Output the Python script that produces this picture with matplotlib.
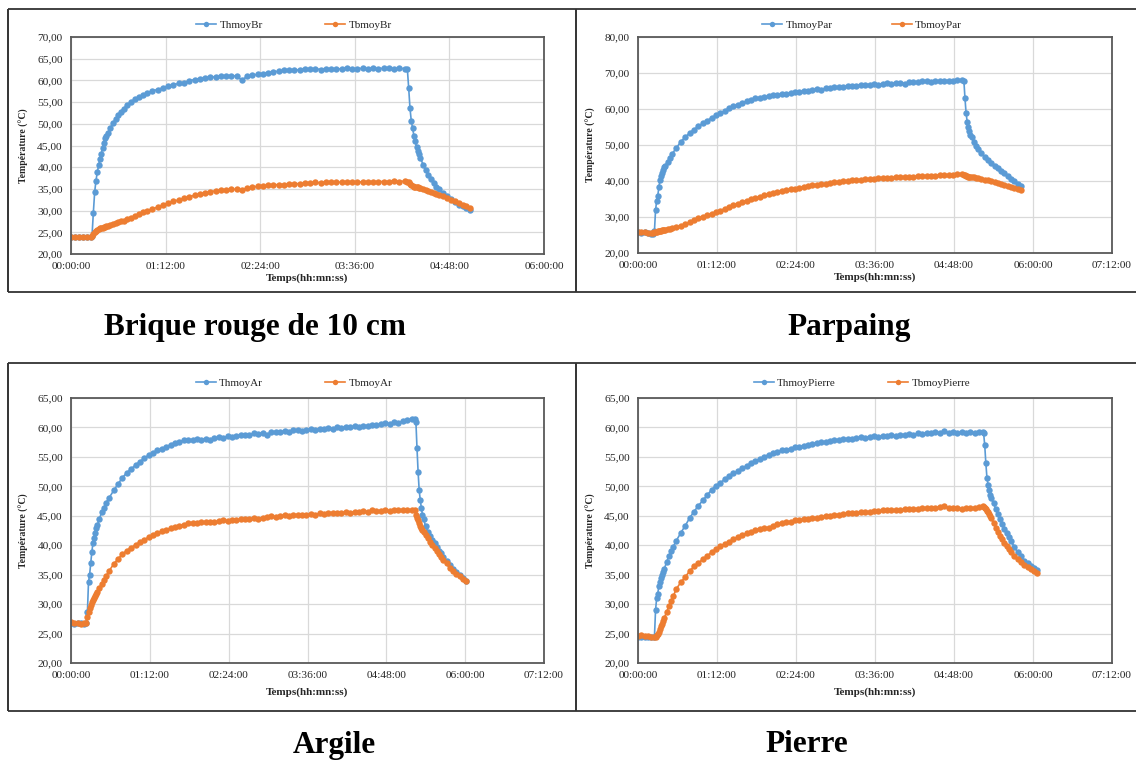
import matplotlib
matplotlib.use("Agg")
import matplotlib.pyplot as plt
from matplotlib.ticker import FuncFormatter, MultipleLocator

plt.rcParams["font.family"] = ["Liberation Serif", "DejaVu Serif"]

# ---------------------------------------------------------------------------
# Measured mean temperatures (time in minutes, temperatures in °C)
# hot = face chauffée (Thmoy), cold = face opposée (Tbmoy)
# ---------------------------------------------------------------------------

# Brique rouge de 10 cm
t_br = [0, 3, 6, 9, 12, 15,
        16, 17, 18, 19, 20, 21, 22, 23, 24, 25,
        26, 27, 28, 30, 32, 34, 36, 38, 40, 43, 46, 49, 52, 55, 58,
        62, 66, 70, 74, 78, 82, 86, 90, 94, 98,
        102, 106, 110, 114, 118, 122, 126, 130, 134, 138,
        142, 146, 150, 154, 158, 162, 166, 170, 174, 178,
        182, 186, 190, 194, 198, 202, 206, 210, 214, 218,
        222, 226, 230, 234, 238, 242, 246, 250, 254,
        256, 257, 258, 259, 260, 261, 262, 263, 264, 265,
        266, 268, 270, 272, 274, 276, 278, 280, 283, 286,
        289, 292, 295, 298, 301, 304]
hot_br = [24.0, 24.0, 23.9, 24.0, 24.0, 24.0,
          24.2, 29.5, 34.2, 36.9, 38.8, 40.4, 41.8, 43.1, 44.4, 45.5,
          46.7, 47.2, 47.8, 49.1, 50.2, 51.1, 52.0, 52.8, 53.5, 54.4, 55.1, 55.7, 56.2, 56.7, 57.1,
          57.6, 57.9, 58.3, 58.6, 59.0, 59.3, 59.5, 59.9, 60.2, 60.4,
          60.6, 60.8, 60.8, 61.0, 60.9, 61.1, 61.0, 60.1, 60.9, 61.2,
          61.4, 61.5, 61.8, 62.0, 62.1, 62.3, 62.5, 62.3, 62.5, 62.7,
          62.6, 62.7, 62.5, 62.7, 62.6, 62.7, 62.6, 62.9, 62.6, 62.7,
          62.8, 62.7, 62.9, 62.7, 62.8, 62.9, 62.7, 62.8, 62.7,
          62.6, 58.3, 53.6, 50.6, 49.0, 47.2, 46.0, 44.7, 43.8, 43.0,
          42.2, 40.5, 39.3, 38.3, 37.2, 36.3, 35.5, 34.9, 34.0, 33.4,
          32.6, 31.9, 31.4, 31.0, 30.6, 30.2]
cold_br = [24.0, 23.9, 24.0, 24.0, 23.9, 24.0,
           24.1, 24.6, 25.1, 25.4, 25.6, 25.8, 25.9, 26.0, 26.1, 26.2,
           26.3, 26.4, 26.5, 26.7, 26.9, 27.1, 27.3, 27.5, 27.7, 28.0, 28.4, 28.8, 29.2, 29.6, 30.0,
           30.4, 30.8, 31.3, 31.7, 32.1, 32.5, 32.8, 33.2, 33.5, 33.8,
           34.1, 34.3, 34.6, 34.7, 34.8, 34.9, 34.9, 34.8, 35.1, 35.4,
           35.6, 35.7, 35.8, 35.9, 36.0, 36.0, 36.1, 36.2, 36.2, 36.3,
           36.4, 36.5, 36.4, 36.5, 36.5, 36.6, 36.5, 36.6, 36.5, 36.6,
           36.6, 36.7, 36.6, 36.7, 36.7, 36.7, 36.8, 36.7, 36.8,
           36.7, 36.6, 36.1, 35.8, 35.6, 35.5, 35.5, 35.4, 35.4, 35.3,
           35.2, 35.0, 34.8, 34.6, 34.3, 34.1, 33.9, 33.7, 33.3, 32.9,
           32.5, 32.1, 31.8, 31.4, 31.0, 30.7]

# Parpaing
t_par = [0, 3, 6, 9, 12, 14,
         15, 16, 17, 18, 19, 20, 21, 22, 23, 24, 25, 27, 29, 31,
         35, 39, 43, 47, 51, 55, 59, 63, 67, 71,
         75, 79, 83, 87, 91, 95, 99, 103, 107, 111,
         115, 119, 123, 127, 131, 135, 139, 143, 147, 151,
         155, 159, 163, 167, 171, 175, 179, 183, 187, 191,
         195, 199, 203, 207, 211, 215, 219, 223, 227, 231,
         235, 239, 243, 247, 251, 255, 259, 263, 267, 271,
         275, 279, 283, 287, 291, 295,
         297, 298, 299, 300, 301, 302, 303, 304, 306, 308,
         310, 313, 316, 319, 322, 325, 328, 331, 334, 337,
         340, 343, 346, 349]
hot_par = [25.7, 25.6, 25.7, 25.6, 25.4, 25.3,
           26.2, 31.9, 34.5, 35.9, 38.2, 40.2, 41.3, 42.3, 43.1, 43.8, 44.3, 45.4, 46.5, 47.5,
           49.2, 50.9, 52.2, 53.3, 54.3, 55.2, 56.0, 56.8, 57.5, 58.2,
           58.8, 59.5, 60.2, 60.8, 61.2, 61.7, 62.1, 62.6, 63.0, 63.0,
           63.4, 63.5, 63.9, 63.9, 64.2, 64.3, 64.4, 64.6, 64.7, 65.0,
           65.1, 65.3, 65.5, 65.4, 65.7, 65.8, 66.0, 66.1, 66.2, 66.4,
           66.5, 66.5, 66.7, 66.7, 66.8, 66.9, 66.8, 67.0, 67.1, 67.0,
           67.2, 67.3, 67.0, 67.4, 67.5, 67.6, 67.7, 67.8, 67.6, 67.8,
           67.7, 67.8, 67.9, 67.8, 68.0, 68.1,
           67.9, 63.0, 58.9, 56.5, 55.0, 53.8, 52.9, 52.1, 50.8, 49.7,
           48.9, 47.7, 46.7, 45.8, 45.0, 44.2, 43.5, 42.8, 42.1, 41.4,
           40.6, 39.9, 39.2, 38.5]
cold_par = [25.8, 25.7, 25.7, 25.6, 25.6, 25.6,
            25.7, 25.8, 25.9, 26.0, 26.1, 26.2, 26.2, 26.3, 26.3, 26.4, 26.5, 26.6, 26.7, 26.9,
            27.2, 27.6, 28.0, 28.5, 29.1, 29.6, 30.1, 30.5, 30.9, 31.3,
            31.8, 32.3, 32.8, 33.3, 33.7, 34.2, 34.5, 34.9, 35.3, 35.6,
            36.0, 36.4, 36.7, 37.0, 37.3, 37.5, 37.7, 37.9, 38.1, 38.4,
            38.6, 38.8, 38.9, 39.1, 39.3, 39.4, 39.6, 39.8, 39.9, 40.1,
            40.2, 40.3, 40.4, 40.5, 40.5, 40.6, 40.7, 40.8, 40.9, 40.9,
            41.0, 41.1, 41.1, 41.2, 41.2, 41.3, 41.3, 41.4, 41.5, 41.5,
            41.6, 41.6, 41.7, 41.8, 41.9, 41.9,
            41.8, 41.6, 41.4, 41.3, 41.2, 41.2, 41.1, 41.1, 41.0, 40.9,
            40.8, 40.6, 40.4, 40.2, 40.0, 39.8, 39.5, 39.2, 38.9, 38.6,
            38.3, 38.1, 37.8, 37.6]

# Argile
t_ar = [0, 3, 6, 9, 12, 14,
        15, 16, 17, 18, 19, 20, 21, 22, 23, 24, 26, 28, 30, 32,
        35, 39, 43, 47, 51, 55, 59, 63, 67, 71,
        75, 79, 83, 87, 91, 95, 99, 103, 107, 111,
        115, 119, 123, 127, 131, 135, 139, 143, 147, 151,
        155, 159, 163, 167, 171, 175, 179, 183, 187, 191,
        195, 199, 203, 207, 211, 215, 219, 223, 227, 231,
        235, 239, 243, 247, 251, 255, 259, 263, 267, 271,
        275, 279, 283, 287, 291, 295, 299, 303, 307, 311,
        314, 315, 316, 317, 318, 319, 320, 321, 322, 324,
        326, 328, 330, 332, 334, 336, 338, 340, 343, 346,
        349, 352, 355, 358, 361]
hot_ar = [26.8, 26.7, 26.8, 26.8, 26.7, 26.8,
          28.7, 33.8, 35.0, 36.9, 38.8, 40.3, 41.3, 42.1, 42.9, 43.4, 44.5, 45.6, 46.4, 47.2,
          48.1, 49.3, 50.4, 51.5, 52.3, 53.0, 53.6, 54.2, 54.8, 55.3,
          55.7, 56.1, 56.4, 56.7, 57.1, 57.4, 57.6, 57.8, 57.9, 57.8,
          58.0, 57.9, 58.1, 57.9, 58.2, 58.3, 58.2, 58.5, 58.4, 58.6,
          58.7, 58.8, 58.7, 59.0, 58.9, 59.1, 58.8, 59.2, 59.3, 59.2,
          59.4, 59.3, 59.5, 59.6, 59.4, 59.6, 59.7, 59.6, 59.8, 59.7,
          59.9, 59.8, 60.0, 59.9, 60.1, 60.0, 60.2, 60.1, 60.3, 60.3,
          60.5, 60.4, 60.6, 60.7, 60.6, 60.9, 60.8, 61.1, 61.2, 61.4,
          61.5, 61.0, 56.5, 52.5, 49.3, 47.7, 46.3, 45.2, 44.4, 43.2,
          42.3, 41.6, 40.9, 40.3, 39.7, 39.1, 38.6, 38.0, 37.3, 36.6,
          36.0, 35.5, 34.9, 34.4, 34.0]
cold_ar = [26.9, 26.8, 26.8, 26.7, 26.8, 26.8,
           27.8, 28.6, 29.4, 29.9, 30.3, 30.7, 31.0, 31.3, 31.7, 32.0, 32.7, 33.5, 34.1, 34.7,
           35.7, 36.8, 37.7, 38.5, 39.1, 39.6, 40.1, 40.5, 40.9, 41.4,
           41.7, 42.0, 42.4, 42.6, 42.9, 43.1, 43.3, 43.5, 43.7, 43.8,
           43.7, 43.9, 43.9, 44.0, 43.9, 44.1, 44.2, 44.1, 44.3, 44.2,
           44.4, 44.4, 44.5, 44.6, 44.5, 44.7, 44.8, 44.9, 44.8, 45.0,
           45.1, 45.0, 45.1, 45.2, 45.1, 45.2, 45.3, 45.2, 45.4, 45.3,
           45.4, 45.5, 45.4, 45.5, 45.6, 45.5, 45.7, 45.6, 45.8, 45.7,
           45.9, 45.8, 45.8, 45.9, 45.8, 46.0, 45.9, 46.0, 46.0, 45.9,
           45.9, 45.2, 44.7, 44.2, 43.8, 43.3, 43.0, 42.6, 42.3, 41.7,
           41.2, 40.6, 40.0, 39.5, 39.0, 38.5, 38.0, 37.5, 36.9, 36.2,
           35.6, 35.1, 34.7, 34.3, 33.9]

# Pierre
t_pi = [0, 3, 6, 9, 12, 15,
        16, 17, 18, 19, 20, 21, 22, 23, 24, 26, 28, 30, 32,
        35, 39, 43, 47, 51, 55, 59, 63, 67, 71,
        75, 79, 83, 87, 91, 95, 99, 103, 107, 111,
        115, 119, 123, 127, 131, 135, 139, 143, 147, 151,
        155, 159, 163, 167, 171, 175, 179, 183, 187, 191,
        195, 199, 203, 207, 211, 215, 219, 223, 227, 231,
        235, 239, 243, 247, 251, 255, 259, 263, 267, 271,
        275, 279, 283, 287, 291, 295, 299, 303, 307, 311,
        314, 315, 316, 317, 318, 319, 320, 321, 322, 324,
        326, 328, 330, 332, 334, 336, 338, 340, 343, 346,
        349, 352, 355, 358, 361, 364]
hot_pi = [24.5, 24.4, 24.5, 24.5, 24.4, 24.5,
          29.0, 31.0, 31.8, 33.0, 33.8, 34.4, 35.0, 35.5, 36.0, 37.1, 38.1, 39.0, 39.7,
          40.8, 42.1, 43.3, 44.6, 45.7, 46.7, 47.6, 48.5, 49.4, 50.1,
          50.6, 51.2, 51.7, 52.2, 52.6, 53.1, 53.5, 53.9, 54.3, 54.7,
          55.0, 55.4, 55.6, 55.9, 56.1, 56.2, 56.4, 56.6, 56.7, 56.9,
          57.1, 57.2, 57.4, 57.5, 57.6, 57.7, 57.9, 57.8, 58.0, 58.1,
          58.0, 58.2, 58.3, 58.2, 58.4, 58.5, 58.4, 58.6, 58.5, 58.7,
          58.6, 58.8, 58.7, 58.9, 58.8, 59.0, 58.9, 59.1, 59.0, 59.2,
          59.1, 59.4, 59.1, 59.2, 59.1, 59.2, 59.0, 59.2, 59.1, 59.3,
          59.3, 59.0, 57.0, 54.0, 51.5, 50.3, 49.3, 48.6, 48.0, 47.1,
          46.2, 45.3, 44.5, 43.6, 42.8, 42.1, 41.4, 40.7, 39.7, 38.8,
          38.1, 37.4, 36.9, 36.4, 36.1, 35.8]
cold_pi = [24.6, 24.7, 24.6, 24.6, 24.5, 24.4,
           24.5, 24.7, 25.0, 25.3, 25.7, 26.2, 26.7, 27.2, 27.7, 28.6, 29.6, 30.5, 31.3,
           32.6, 33.7, 34.6, 35.6, 36.4, 37.0, 37.6, 38.2, 38.8, 39.3,
           39.8, 40.2, 40.6, 41.0, 41.4, 41.7, 42.0, 42.3, 42.6, 42.8,
           42.9, 43.0, 43.3, 43.6, 43.8, 43.9, 44.0, 44.2, 44.3, 44.4,
           44.5, 44.6, 44.6, 44.8, 44.9, 45.0, 45.2, 45.2, 45.3, 45.4,
           45.4, 45.5, 45.6, 45.6, 45.7, 45.8, 45.8, 45.9, 45.9, 45.9,
           46.0, 46.0, 46.1, 46.1, 46.2, 46.2, 46.3, 46.3, 46.4, 46.4,
           46.5, 46.6, 46.4, 46.3, 46.3, 46.2, 46.3, 46.3, 46.4, 46.5,
           46.6, 46.5, 46.3, 46.1, 45.8, 45.6, 45.3, 45.0, 44.6, 43.8,
           43.0, 42.3, 41.6, 41.0, 40.4, 39.8, 39.3, 38.8, 38.1, 37.6,
           37.1, 36.7, 36.3, 35.9, 35.6, 35.3]

# ---------------------------------------------------------------------------
# Layout (pixel geometry of the 1136 x 762 canvas)
# ---------------------------------------------------------------------------
W, H = 1136, 762
BLUE = "#5B9BD5"
ORANGE = "#ED7D31"
GRID = "#D9D9D9"
SPINE = "#595959"
TXT = "#262626"

panels = [
    dict(t=t_br, hot=hot_br, cold=cold_br, box=(71, 37, 544, 254), xmax=360,
         ylim=(20, 70), ystep=5, names=("ThmoyBr", "TbmoyBr"),
         leg=(294, 25, 5.6), xlab_off=24, title="Brique rouge de 10 cm", tpos=(255, 328)),
    dict(t=t_par, hot=hot_par, cold=cold_par, box=(638, 37, 1112, 253), xmax=432,
         ylim=(20, 80), ystep=10, names=("ThmoyPar", "TbmoyPar"),
         leg=(862, 25, 5.3), xlab_off=24, title="Parpaing", tpos=(849, 328)),
    dict(t=t_ar, hot=hot_ar, cold=cold_ar, box=(71, 398, 544, 663), xmax=432,
         ylim=(20, 65), ystep=5, names=("ThmoyAr", "TbmoyAr"),
         leg=(294, 383, 5.6), xlab_off=29, title="Argile", tpos=(334, 745)),
    dict(t=t_pi, hot=hot_pi, cold=cold_pi, box=(638, 398, 1112, 663), xmax=432,
         ylim=(20, 65), ystep=5, names=("ThmoyPierre", "TbmoyPierre"),
         leg=(862, 383, 4.7), xlab_off=29, title="Pierre", tpos=(807, 745)),
]

fig = plt.figure(figsize=(W / 100, H / 100), dpi=100)
fig.patch.set_facecolor("white")

# Table frame around the four charts
ov = fig.add_axes([0, 0, 1, 1], zorder=-5)
ov.set_xlim(0, W)
ov.set_ylim(H, 0)
ov.axis("off")
for y in (9, 292, 363, 711):
    ov.plot([8, W], [y, y], color="#333333", lw=1.3, solid_capstyle="butt")
for x in (8, 575.5):
    ov.plot([x, x], [9, 292], color="#333333", lw=1.4, solid_capstyle="butt")
    ov.plot([x, x], [363, 711], color="#333333", lw=1.4, solid_capstyle="butt")


def hms(v, pos):
    m = int(round(v))
    return f"{m // 60:02d}:{m % 60:02d}:00"


def comma2(v, pos):
    return f"{v:.2f}".replace(".", ",")


for p in panels:
    x0, y0, x1, y1 = p["box"]
    ax = fig.add_axes([x0 / W, 1 - y1 / H, (x1 - x0) / W, (y1 - y0) / H])
    ax.set_xlim(0, p["xmax"])
    ax.set_ylim(*p["ylim"])
    ax.xaxis.set_major_locator(MultipleLocator(72))
    ax.yaxis.set_major_locator(MultipleLocator(p["ystep"]))
    ax.xaxis.set_major_formatter(FuncFormatter(hms))
    ax.yaxis.set_major_formatter(FuncFormatter(comma2))
    ax.grid(True, color=GRID, lw=0.9)
    ax.set_axisbelow(True)
    for s in ax.spines.values():
        s.set_color(SPINE)
        s.set_linewidth(1.3)
    ax.tick_params(length=0, labelsize=8.2, labelcolor=TXT)
    ax.tick_params(axis="x", pad=5.5)
    ax.tick_params(axis="y", pad=6.0)

    h1, = ax.plot(p["t"], p["hot"], "-o", color=BLUE, lw=1.2, ms=4.6, mew=0, label=p["names"][0])
    h2, = ax.plot(p["t"], p["cold"], "-o", color=ORANGE, lw=1.2, ms=4.6, mew=0, label=p["names"][1])

    w, h = x1 - x0, y1 - y0
    ax.text(0.5, -p["xlab_off"] / h, "Temps(hh:mn:ss)", transform=ax.transAxes,
            ha="center", va="center", fontsize=8, fontweight="bold", color=TXT)
    ax.text(-47 / w, 0.5, "Température (°C)", transform=ax.transAxes, rotation=90,
            ha="center", va="center", fontsize=7, fontweight="bold", color=TXT)

    cx, cy, csp = p["leg"]
    fig.legend([h1, h2], p["names"], loc="center", bbox_to_anchor=(cx / W, 1 - cy / H),
               ncol=2, frameon=False, fontsize=8, handlelength=1.8, handletextpad=0.3,
               columnspacing=csp, borderpad=0, labelcolor=TXT, markerscale=0.85)

    tx, ty = p["tpos"]
    ov.text(tx, ty, p["title"], ha="center", va="center", fontsize=22.5,
            fontweight="bold", color="black")

fig.savefig("out.png", dpi=100, facecolor="white")
